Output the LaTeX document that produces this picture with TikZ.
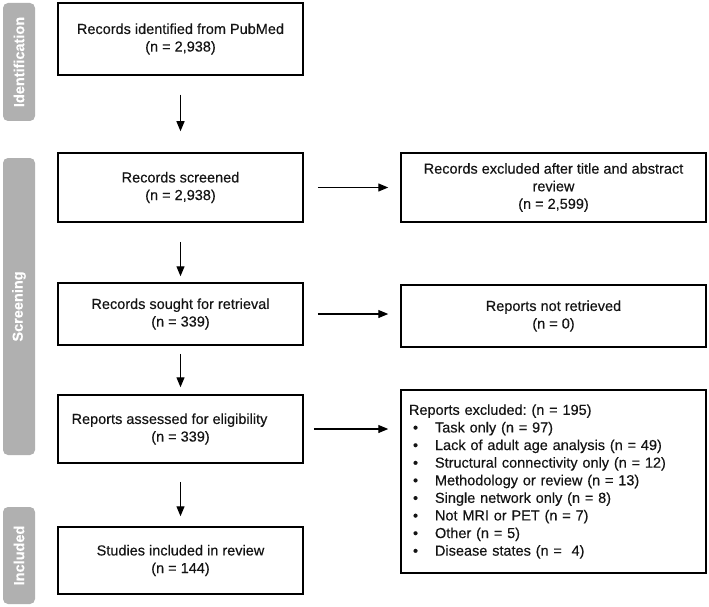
\documentclass[tikz,border=0pt]{standalone}
\usepackage{fontspec}
\setmainfont{Liberation Sans}[FakeBold=0.35]
\usetikzlibrary{arrows.meta}

\definecolor{bargray}{RGB}{176,176,176}
\definecolor{inkgray}{RGB}{20,20,20}
\newcommand{\itm}[1]{\makebox[26pt][l]{\hspace{4pt}•}#1}

\tikzset{every picture/.style={line width=0.75pt}}

\begin{document}
\begin{tikzpicture}[x=1pt,y=1pt,yscale=-1,
  stagebar/.style={fill=bargray,rounded corners=5pt,rotate=90,minimum height=32pt,inner sep=0pt,text=white,font=\fontsize{14.5}{17}\selectfont\bfseries},
  flowbox/.style={draw,line width=1.5pt,minimum width=245pt,align=center,inner sep=2pt,text=inkgray,font=\fontsize{14.5}{17.6}\selectfont},
  sidebox/.style={flowbox,minimum width=305pt},
  flowarrow/.style={line width=1.2pt,-{Triangle[length=10pt,width=8pt]}}]
\useasboundingbox (0,0) rectangle (709,607);

% Stage bars
\node[stagebar,minimum width=118pt] (ident) at (19,62) {Identification};
\node[stagebar,minimum width=297pt] (screen) at (19,306.5) {Screening};
\node[stagebar,minimum width=97pt] (incl) at (19,555.5) {Included};

% Main column
\node[flowbox,minimum height=72pt] (found) at (180.5,39) {Records identified from PubMed\\(n = 2,938)};
\node[flowbox,minimum height=69pt] (screened) at (180.5,187.5) {Records screened\\(n = 2,938)};
\node[flowbox,minimum height=62pt] (sought) at (180.5,314) {Records sought for retrieval\\(n = 339)};
\node[flowbox,minimum height=68pt] (assessed) at (180.5,429) {\mbox{Reports assessed for eligibility\hspace{22pt}}\\(n = 339)};
\node[flowbox,minimum height=67pt] (included) at (180.5,560.5) {Studies included in review\\(n = 144)};

% Exclusion column
\node[sidebox,minimum height=69pt] (excluded) at (553.5,187.5) {Records excluded after title and abstract\\review\\(n = 2,599)};
\node[sidebox,minimum height=62pt] (notret) at (553.5,316) {Reports not retrieved\\(n = 0)};
\node[sidebox,minimum height=183pt,align=left,inner sep=8pt,text width=289pt] (reasons) at (553.5,481.5) {Reports excluded:\ (n = 195)\\
\itm{Task only (n = 97)}\\
\itm{Lack of adult age analysis (n = 49)}\\
\itm{Structural connectivity only (n = 12)}\\
\itm{Methodology or review (n = 13)}\\
\itm{Single network only (n = 8)}\\
\itm{Not MRI or PET (n = 7)}\\
\itm{Other (n = 5)}\\
\itm{Disease states (n = \ 4)}};

%Straight Lines
\draw[flowarrow,shorten <=19pt,shorten >=21pt] (found) -- (screened);
\draw[flowarrow,shorten <=19pt,shorten >=6pt] (screened) -- (sought);
\draw[flowarrow,shorten <=8pt,shorten >=7pt] (sought) -- (assessed);
\draw[flowarrow,shorten <=18pt,shorten >=10pt] (assessed) -- (included);
%Straight Lines
\draw[flowarrow,shorten <=14pt,shorten >=12pt] (screened) -- (excluded);
\draw[flowarrow,shorten <=14pt,shorten >=12pt] (sought.east) -- (sought.east -| notret.west);
\draw[flowarrow,shorten <=10pt,shorten >=12pt] (assessed.east) -- (assessed.east -| reasons.west);

\end{tikzpicture}
\end{document}
